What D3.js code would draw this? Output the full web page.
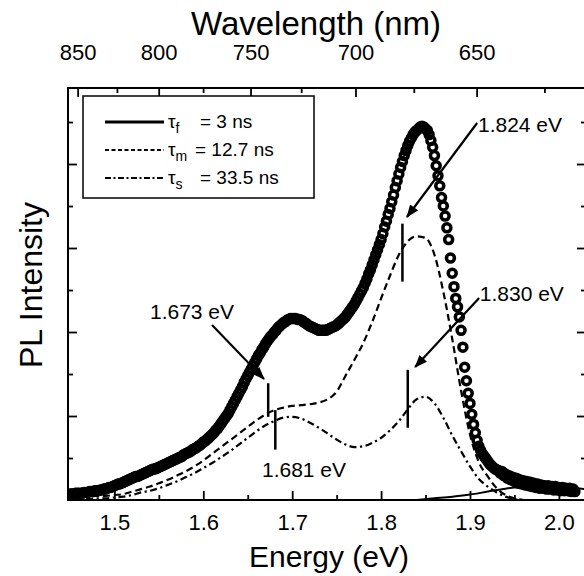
<!DOCTYPE html>
<html><head><meta charset="utf-8">
<script src="https://cdn.jsdelivr.net/npm/d3@7"></script>
<style>
html,body{margin:0;padding:0;background:#fff;}
svg{display:block;}
text{font-family:"Liberation Sans",Arial,Helvetica,sans-serif;fill:#000;}
</style></head><body>
<svg id="chart" width="584" height="576"></svg>
<script>
// ---- measured PL spectrum (open circles) ----
const energy = [
1.450,1.452,1.454,1.456,1.458,1.460,1.462,1.464,1.466,1.468,
1.470,1.472,1.474,1.476,1.478,1.480,1.482,1.484,1.486,1.488,
1.490,1.492,1.494,1.496,1.498,1.500,1.502,1.504,1.506,1.508,
1.510,1.512,1.514,1.516,1.518,1.520,1.522,1.524,1.526,1.528,
1.530,1.532,1.534,1.536,1.538,1.540,1.542,1.544,1.546,1.548,
1.550,1.552,1.554,1.556,1.558,1.560,1.562,1.564,1.566,1.568,
1.570,1.572,1.574,1.576,1.578,1.580,1.582,1.584,1.586,1.588,
1.590,1.592,1.594,1.596,1.598,1.600,1.602,1.604,1.606,1.608,
1.610,1.612,1.614,1.616,1.618,1.620,1.622,1.624,1.626,1.628,
1.630,1.632,1.634,1.636,1.638,1.640,1.642,1.644,1.646,1.648,
1.650,1.652,1.654,1.656,1.658,1.660,1.662,1.664,1.666,1.668,
1.670,1.672,1.674,1.676,1.678,1.680,1.682,1.684,1.686,1.688,
1.690,1.692,1.694,1.696,1.698,1.700,1.702,1.704,1.706,1.708,
1.710,1.712,1.714,1.716,1.718,1.720,1.722,1.724,1.726,1.728,
1.730,1.732,1.734,1.736,1.738,1.740,1.742,1.744,1.746,1.748,
1.750,1.752,1.754,1.756,1.758,1.760,1.762,1.764,1.766,1.768,
1.770,1.772,1.774,1.776,1.778,1.780,1.782,1.784,1.786,1.788,
1.790,1.792,1.794,1.796,1.798,1.800,1.802,1.804,1.806,1.808,
1.810,1.812,1.814,1.816,1.818,1.820,1.822,1.824,1.826,1.828,
1.830,1.832,1.834,1.836,1.838,1.840,1.842,1.844,1.846,1.848,
1.850,1.852,1.854,1.856,1.858,1.860,1.862,1.864,1.866,1.868,
1.870,1.872,1.874,1.876,1.878,1.880,1.882,1.884,1.886,1.888,
1.890,1.892,1.894,1.896,1.898,1.900,1.902,1.904,1.906,1.908,
1.910,1.912,1.914,1.916,1.918,1.920,1.922,1.924,1.926,1.928,
1.930,1.932,1.934,1.936,1.938,1.940,1.942,1.944,1.946,1.948,
1.950,1.952,1.954,1.956,1.958,1.960,1.962,1.964,1.966,1.968,
1.970,1.972,1.974,1.976,1.978,1.980,1.982,1.984,1.986,1.988,
1.990,1.992,1.994,1.996,1.998,2.000,2.002,2.004,2.006,2.008,
2.010,2.012,2.014,2.016,2.018];
const plIntensity = [
0.07,0.07,0.07,0.08,0.08,0.08,0.08,0.08,0.09,0.09,
0.09,0.10,0.10,0.10,0.11,0.11,0.11,0.12,0.12,0.13,
0.13,0.14,0.15,0.15,0.16,0.17,0.18,0.19,0.19,0.20,
0.21,0.22,0.23,0.24,0.25,0.26,0.27,0.28,0.28,0.29,
0.30,0.31,0.32,0.33,0.34,0.35,0.36,0.37,0.37,0.38,
0.39,0.40,0.41,0.42,0.43,0.44,0.45,0.46,0.47,0.48,
0.49,0.50,0.51,0.52,0.54,0.55,0.56,0.57,0.58,0.60,
0.61,0.62,0.64,0.65,0.67,0.69,0.70,0.72,0.74,0.76,
0.78,0.80,0.83,0.85,0.88,0.91,0.94,0.97,1.00,1.03,
1.07,1.11,1.15,1.19,1.23,1.27,1.31,1.35,1.40,1.44,
1.48,1.52,1.56,1.60,1.64,1.68,1.72,1.75,1.79,1.82,
1.86,1.89,1.92,1.95,1.97,2.00,2.02,2.05,2.07,2.09,
2.11,2.12,2.14,2.15,2.16,2.16,2.16,2.16,2.15,2.15,
2.14,2.13,2.11,2.10,2.08,2.07,2.06,2.05,2.04,2.03,
2.02,2.02,2.02,2.02,2.02,2.03,2.04,2.05,2.06,2.07,
2.08,2.10,2.12,2.14,2.16,2.18,2.21,2.24,2.27,2.30,
2.33,2.37,2.41,2.45,2.49,2.53,2.58,2.63,2.69,2.74,
2.80,2.86,2.92,2.98,3.04,3.10,3.17,3.25,3.32,3.40,
3.47,3.55,3.63,3.72,3.80,3.88,3.96,4.03,4.10,4.16,
4.22,4.27,4.31,4.35,4.38,4.40,4.42,4.44,4.45,4.44,
4.42,4.40,4.35,4.28,4.20,4.10,3.98,3.86,3.74,3.60,
3.50,3.38,3.24,3.10,2.88,2.70,2.54,2.40,2.30,2.18,
2.02,1.82,1.58,1.42,1.27,1.15,1.02,0.90,0.80,0.71,
0.64,0.59,0.55,0.52,0.49,0.46,0.43,0.41,0.39,0.37,
0.36,0.35,0.32,0.34,0.29,0.31,0.26,0.29,0.24,0.27,
0.22,0.26,0.20,0.24,0.19,0.23,0.18,0.22,0.17,0.21,
0.16,0.20,0.15,0.19,0.14,0.18,0.14,0.17,0.13,0.17,
0.13,0.16,0.12,0.16,0.12,0.15,0.11,0.15,0.11,0.14,
0.11,0.14,0.10,0.13,0.10];

// ---- decay-component spectra ----
const fitEnergy = [1.45,1.46,1.47,1.48,1.49,1.50,1.51,1.52,1.53,1.54,
1.55,1.56,1.57,1.58,1.59,1.60,1.61,1.62,1.63,1.64,
1.65,1.66,1.67,1.68,1.69,1.70,1.71,1.72,1.73,1.74,
1.75,1.76,1.77,1.78,1.79,1.80,1.81,1.82,1.83,1.84,
1.85,1.86,1.87,1.88,1.89,1.90,1.91,1.92,1.93,1.94,
1.95,1.96];
const tauM = [0.03,0.03,0.04,0.05,0.05,0.06,0.07,0.10,0.13,0.16,
0.20,0.24,0.29,0.34,0.40,0.47,0.55,0.63,0.71,0.79,
0.87,0.95,1.02,1.07,1.10,1.12,1.13,1.14,1.16,1.20,
1.29,1.48,1.67,1.87,2.12,2.40,2.67,2.92,3.08,3.14,
3.12,2.92,2.48,1.92,1.30,0.78,0.45,0.28,0.14,0.06,
0.02,0.00];
const tauS = [0.01,0.01,0.01,0.02,0.02,0.03,0.04,0.06,0.09,0.11,
0.14,0.18,0.22,0.27,0.32,0.38,0.44,0.51,0.58,0.66,
0.74,0.82,0.89,0.94,0.98,0.99,0.97,0.92,0.86,0.79,
0.72,0.66,0.63,0.64,0.68,0.74,0.83,0.94,1.08,1.20,
1.23,1.15,0.98,0.77,0.58,0.40,0.25,0.16,0.09,0.04,
0.01,0.00];
const fastEnergy = [1.84,1.86,1.88,1.90,1.92,1.94,1.96,1.98,2.00,2.02,2.03];
const tauF = [0.00,0.02,0.04,0.065,0.10,0.135,0.16,0.17,0.16,0.14,0.13];

// ---- ticks ----
const energyTicks = [1.5,1.6,1.7,1.8,1.9,2.0];
const energyMinorTicks = [1.55,1.65,1.75,1.85,1.95];
const wavelengthTicks = [850,800,750,700,650];
const wavelengthMinorTicks = [825,775,725,675,625];
const intensityTicks = [1,2,3,4];
const intensityMinorTicks = [0.5,1.5,2.5,3.5,4.5];

// ---- legend ----
const legendSymbols = ["τ","τ","τ"];
const legendSubs = ["f","m","s"];
const legendValues = ["= 3 ns","= 12.7 ns","= 33.5 ns"];

// ---- peak annotations (data units) ----
const peakLabels = ["1.673 eV","1.681 eV","1.824 eV","1.830 eV"];
const peakEnergy = [1.673,1.681,1.824,1.830];
const peakMarkLow = [0.99,0.60,2.60,0.86];
const peakMarkHigh = [1.39,1.07,3.29,1.55];
const labelEnergy = [1.540,1.666,1.909,1.911];
const labelIntensity = [2.155,0.274,4.381,2.369];
const arrowFromE = [1.6098,null,1.9080,1.9103];
const arrowFromI = [2.083,null,4.488,2.405];
const arrowToE = [1.6683,null,1.8291,1.8383];
const arrowToI = [1.440,null,3.369,1.583];

const HC = 1239.84;
const svg = d3.select("#chart");
const L = 68, R = 586, T = 88, B = 500;
const x = d3.scaleLinear().domain([1.4478, 2.0305]).range([L, R]);
const y = d3.scaleLinear().domain([0, 4.905]).range([B, T]);

svg.append("defs").append("clipPath").attr("id","clip")
  .append("rect").attr("x",L).attr("y",T).attr("width",R-L).attr("height",B-T);
const defs = svg.select("defs");
defs.append("marker").attr("id","ah").attr("markerUnits","userSpaceOnUse")
  .attr("markerWidth",13).attr("markerHeight",10).attr("refX",12).attr("refY",5)
  .attr("orient","auto")
  .append("path").attr("d","M0,0 L13,5 L0,10 Z").attr("fill","#000");

const plot = svg.append("g").attr("clip-path","url(#clip)");

// circles
plot.selectAll("circle.pt").data(energy.map((e,i)=>[e,plIntensity[i]]))
  .enter().append("circle").attr("class","pt")
  .attr("cx",d=>x(d[0])).attr("cy",d=>y(d[1])).attr("r",4)
  .attr("fill","none").attr("stroke","#000").attr("stroke-width",3.5);

// component lines
const line = d3.line().x(d=>x(d[0])).y(d=>y(d[1])).curve(d3.curveMonotoneX);
plot.append("path").datum(fitEnergy.map((e,i)=>[e,tauM[i]]))
  .attr("d",line).attr("fill","none").attr("stroke","#000").attr("stroke-width",2.2)
  .attr("stroke-dasharray","7,4");
plot.append("path").datum(fitEnergy.map((e,i)=>[e,tauS[i]]))
  .attr("d",line).attr("fill","none").attr("stroke","#000").attr("stroke-width",2.2)
  .attr("stroke-dasharray","7,3.5,2.2,3.5");
plot.append("path").datum(fastEnergy.map((e,i)=>[e,tauF[i]]))
  .attr("d",line).attr("fill","none").attr("stroke","#000").attr("stroke-width",2);

// peak marks
svg.selectAll("line.mark").data(peakEnergy).enter().append("line").attr("class","mark")
  .attr("x1",d=>x(d)).attr("x2",d=>x(d))
  .attr("y1",(d,i)=>y(peakMarkLow[i])).attr("y2",(d,i)=>y(peakMarkHigh[i]))
  .attr("stroke","#000").attr("stroke-width",2.5);
// arrows
svg.selectAll("line.arrow").data(peakLabels.map((l,i)=>i).filter(i=>arrowFromE[i]!==null))
  .enter().append("line").attr("class","arrow")
  .attr("x1",i=>x(arrowFromE[i])).attr("y1",i=>y(arrowFromI[i]))
  .attr("x2",i=>x(arrowToE[i])).attr("y2",i=>y(arrowToI[i]))
  .attr("stroke","#000").attr("stroke-width",2.2).attr("marker-end","url(#ah)");
// labels
svg.selectAll("text.peak").data(peakLabels).enter().append("text").attr("class","peak")
  .attr("x",(d,i)=>x(labelEnergy[i])).attr("y",(d,i)=>y(labelIntensity[i]))
  .attr("font-size",21).text(d=>d);

// axes
function styleAxis(g){
  g.select(".domain").remove();
  g.selectAll(".tick line").attr("stroke","#000").attr("stroke-width",1.8);
  g.selectAll(".tick text").attr("font-size",22).attr("font-family",'"Liberation Sans",Arial,sans-serif').attr("fill","#000");
}
svg.append("g").attr("transform",`translate(0,${B})`)
  .call(d3.axisBottom(x).tickValues(energyTicks).tickSize(-9).tickPadding(14).tickFormat(d3.format(".1f"))).call(styleAxis);
svg.append("g").attr("transform",`translate(0,${B})`)
  .call(d3.axisBottom(x).tickValues(energyMinorTicks).tickSize(-5).tickFormat("")).call(styleAxis);
svg.append("g").attr("transform",`translate(0,${T})`)
  .call(d3.axisTop(x).tickValues(wavelengthTicks.map(l=>HC/l)).tickSize(-9).tickPadding(28).tickFormat(e=>Math.round(HC/e))).call(styleAxis);
svg.append("g").attr("transform",`translate(0,${T})`)
  .call(d3.axisTop(x).tickValues(wavelengthMinorTicks.map(l=>HC/l)).tickSize(-5).tickFormat("")).call(styleAxis);
svg.append("g").attr("transform",`translate(${L},0)`)
  .call(d3.axisLeft(y).tickValues(intensityTicks).tickSize(-9).tickFormat("")).call(styleAxis);
svg.append("g").attr("transform",`translate(${L},0)`)
  .call(d3.axisLeft(y).tickValues(intensityMinorTicks).tickSize(-5).tickFormat("")).call(styleAxis);
svg.append("g").attr("transform",`translate(${R},0)`)
  .call(d3.axisRight(y).tickValues(intensityTicks).tickSize(-9).tickFormat("")).call(styleAxis);
svg.append("g").attr("transform",`translate(${R},0)`)
  .call(d3.axisRight(y).tickValues(intensityMinorTicks).tickSize(-5).tickFormat("")).call(styleAxis);

// frame
svg.append("rect").attr("x",L).attr("y",T).attr("width",R-L).attr("height",B-T)
  .attr("fill","none").attr("stroke","#000").attr("stroke-width",2);

// titles
svg.append("text").attr("x",329).attr("y",567).attr("text-anchor","middle").attr("font-size",30).text("Energy (eV)");
svg.append("text").attr("x",316).attr("y",35).attr("text-anchor","middle").attr("font-size",33).text("Wavelength (nm)");
svg.append("text").attr("transform","translate(42,285) rotate(-90)").attr("text-anchor","middle").attr("font-size",32).text("PL Intensity");

// legend
const lg = svg.append("g");
lg.append("rect").attr("x",83).attr("y",96).attr("width",231).attr("height",102)
  .attr("fill","#fff").attr("stroke","#000").attr("stroke-width",1.5);
const rowY = [122,150,178];
const dashes = [null,"4,2.5","6,2.5,2,2.5"];
const widths = [3,2.2,2.2];
const eqX = [200,195,200];
legendSymbols.forEach((s,i)=>{
  const ln = lg.append("line").attr("x1",105).attr("x2",164).attr("y1",rowY[i]).attr("y2",rowY[i])
    .attr("stroke","#000").attr("stroke-width",widths[i]);
  if(dashes[i]) ln.attr("stroke-dasharray",dashes[i]);
  const t = lg.append("text").attr("x",168).attr("y",rowY[i]+6).attr("font-size",19);
  t.append("tspan").text(s);
  t.append("tspan").attr("font-size",14).attr("dy",5).text(legendSubs[i]);
  t.append("tspan").attr("x",eqX[i]).attr("dy",-5).text(legendValues[i]);
});
</script>
</body></html>
